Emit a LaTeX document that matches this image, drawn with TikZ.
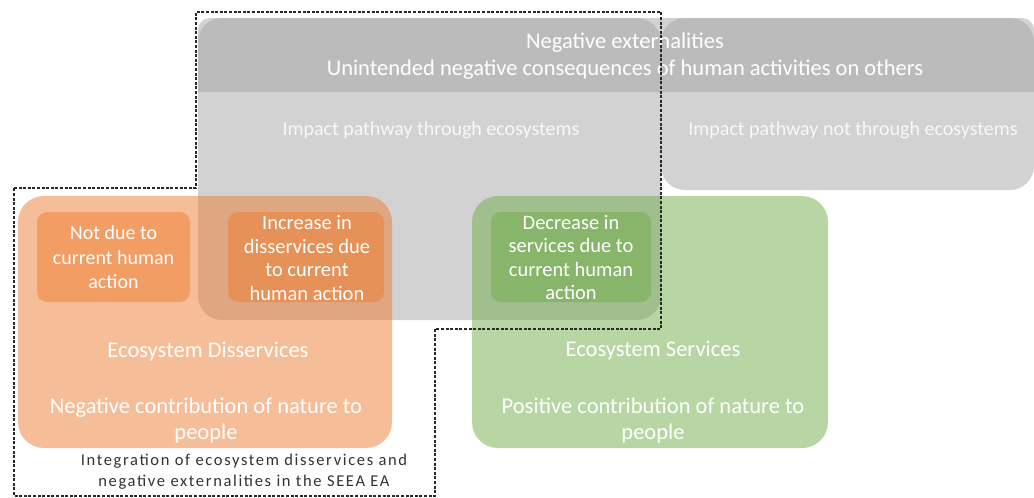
\documentclass[tikz,border=0pt]{standalone}
\usepackage{fontspec}
\setmainfont{Carlito}
\definecolor{accOrange}{HTML}{ED7D31}
\definecolor{accGreen}{HTML}{70AD47}
\definecolor{accGray}{HTML}{A5A5A5}
\definecolor{paleGray}{RGB}{210,210,210}
\definecolor{frameInk}{RGB}{40,40,40}
\definecolor{captionInk}{RGB}{50,50,50}
\begin{document}
\begin{tikzpicture}[x=1pt,y=-1pt,
  pathbox/.style={fill=paleGray, rounded corners=24pt},
  headband/.style={fill=accGray, fill opacity=0.5},
  bigbox/.style={rectangle, rounded corners=26pt, fill opacity=0.5, inner sep=0pt},
  smallbox/.style={rectangle, rounded corners=10pt, fill opacity=0.5, inner sep=0pt,
    minimum height=90pt},
  wlabel/.style={text=white, align=center, inner sep=0pt},
  frame/.style={draw=frameInk, line width=1.1pt, dash pattern=on 3pt off 1.6pt},
]
\useasboundingbox (0,0) rectangle (1034,498);

% impact pathways (light grey)
\fill[pathbox] (198,18) rectangle (661,320);
\fill[pathbox] (661,18) rectangle (1034,190);
% header band of negative externalities
\fill[headband] (198,92) [rounded corners=12pt]-- (198,18) -- (1034,18) [sharp corners]-- (1034,92) -- cycle;

% ecosystem disservices and services
\node[bigbox, fill=accOrange, minimum width=374pt, minimum height=252pt] (dis) at (205,322) {};
\node[bigbox, fill=accGreen, minimum width=356pt, minimum height=252pt] (ser) at (650,322) {};

% sub-categories
\node[smallbox, fill=accOrange, minimum width=153pt] (notdue) at (113.5,257) {};
\node[smallbox, fill=accOrange, minimum width=156pt] (incr) at (306,257) {};
\node[smallbox, fill=accGreen, minimum width=160pt] (decr) at (571,257) {};

% labels
\node[wlabel, font=\fontsize{22.5}{27}\selectfont] (negext) at (625,56.5)
  {Negative externalities\\Unintended negative consequences of human activities on others};
\node[wlabel, font=\fontsize{20}{24}\selectfont, text opacity=0.85] (pthr) at (431,130)
  {Impact pathway through ecosystems};
\node[wlabel, font=\fontsize{20}{24}\selectfont, text opacity=0.85] (pnot) at (853,130)
  {Impact pathway not through ecosystems};

\node[wlabel, font=\fontsize{20}{24.5}\selectfont] (tnotdue) at (113.5,257.5)
  {Not due to\\current human\\action};
\node[wlabel, font=\fontsize{20.5}{23.5}\selectfont] (tincr) at (307,258)
  {Increase in\\disservices due\\to current\\human action};
\node[wlabel, font=\fontsize{20.5}{23.5}\selectfont] (tdecr) at (571,257.5)
  {Decrease in\\services due to\\current human\\action};

\node[wlabel, font=\fontsize{22.5}{26}\selectfont] (tdis) at (208,352) {Ecosystem Disservices};
\node[wlabel, font=\fontsize{22.5}{26}\selectfont] (tdisdef) at (206,420)
  {Negative contribution of nature to\\people};
\node[wlabel, font=\fontsize{22.5}{26}\selectfont] (tser) at (653,351) {Ecosystem Services};
\node[wlabel, font=\fontsize{22.5}{26}\selectfont] (tserdef) at (653,420)
  {Positive contribution of nature to\\people};

% integration frame and its caption
\draw[frame] (14,188) -- (196,188) -- (196,12) -- (661,12) -- (661,329)
  -- (435,329) -- (435,496) -- (14,496) -- cycle;
\node[align=center, text=captionInk, inner sep=0pt,
  font=\addfontfeatures{LetterSpace=10}\fontsize{16.5}{21}\selectfont] (cap) at (244,471.5)
  {Integration of ecosystem disservices and\\negative externalities in the SEEA EA};
\end{tikzpicture}
\end{document}
